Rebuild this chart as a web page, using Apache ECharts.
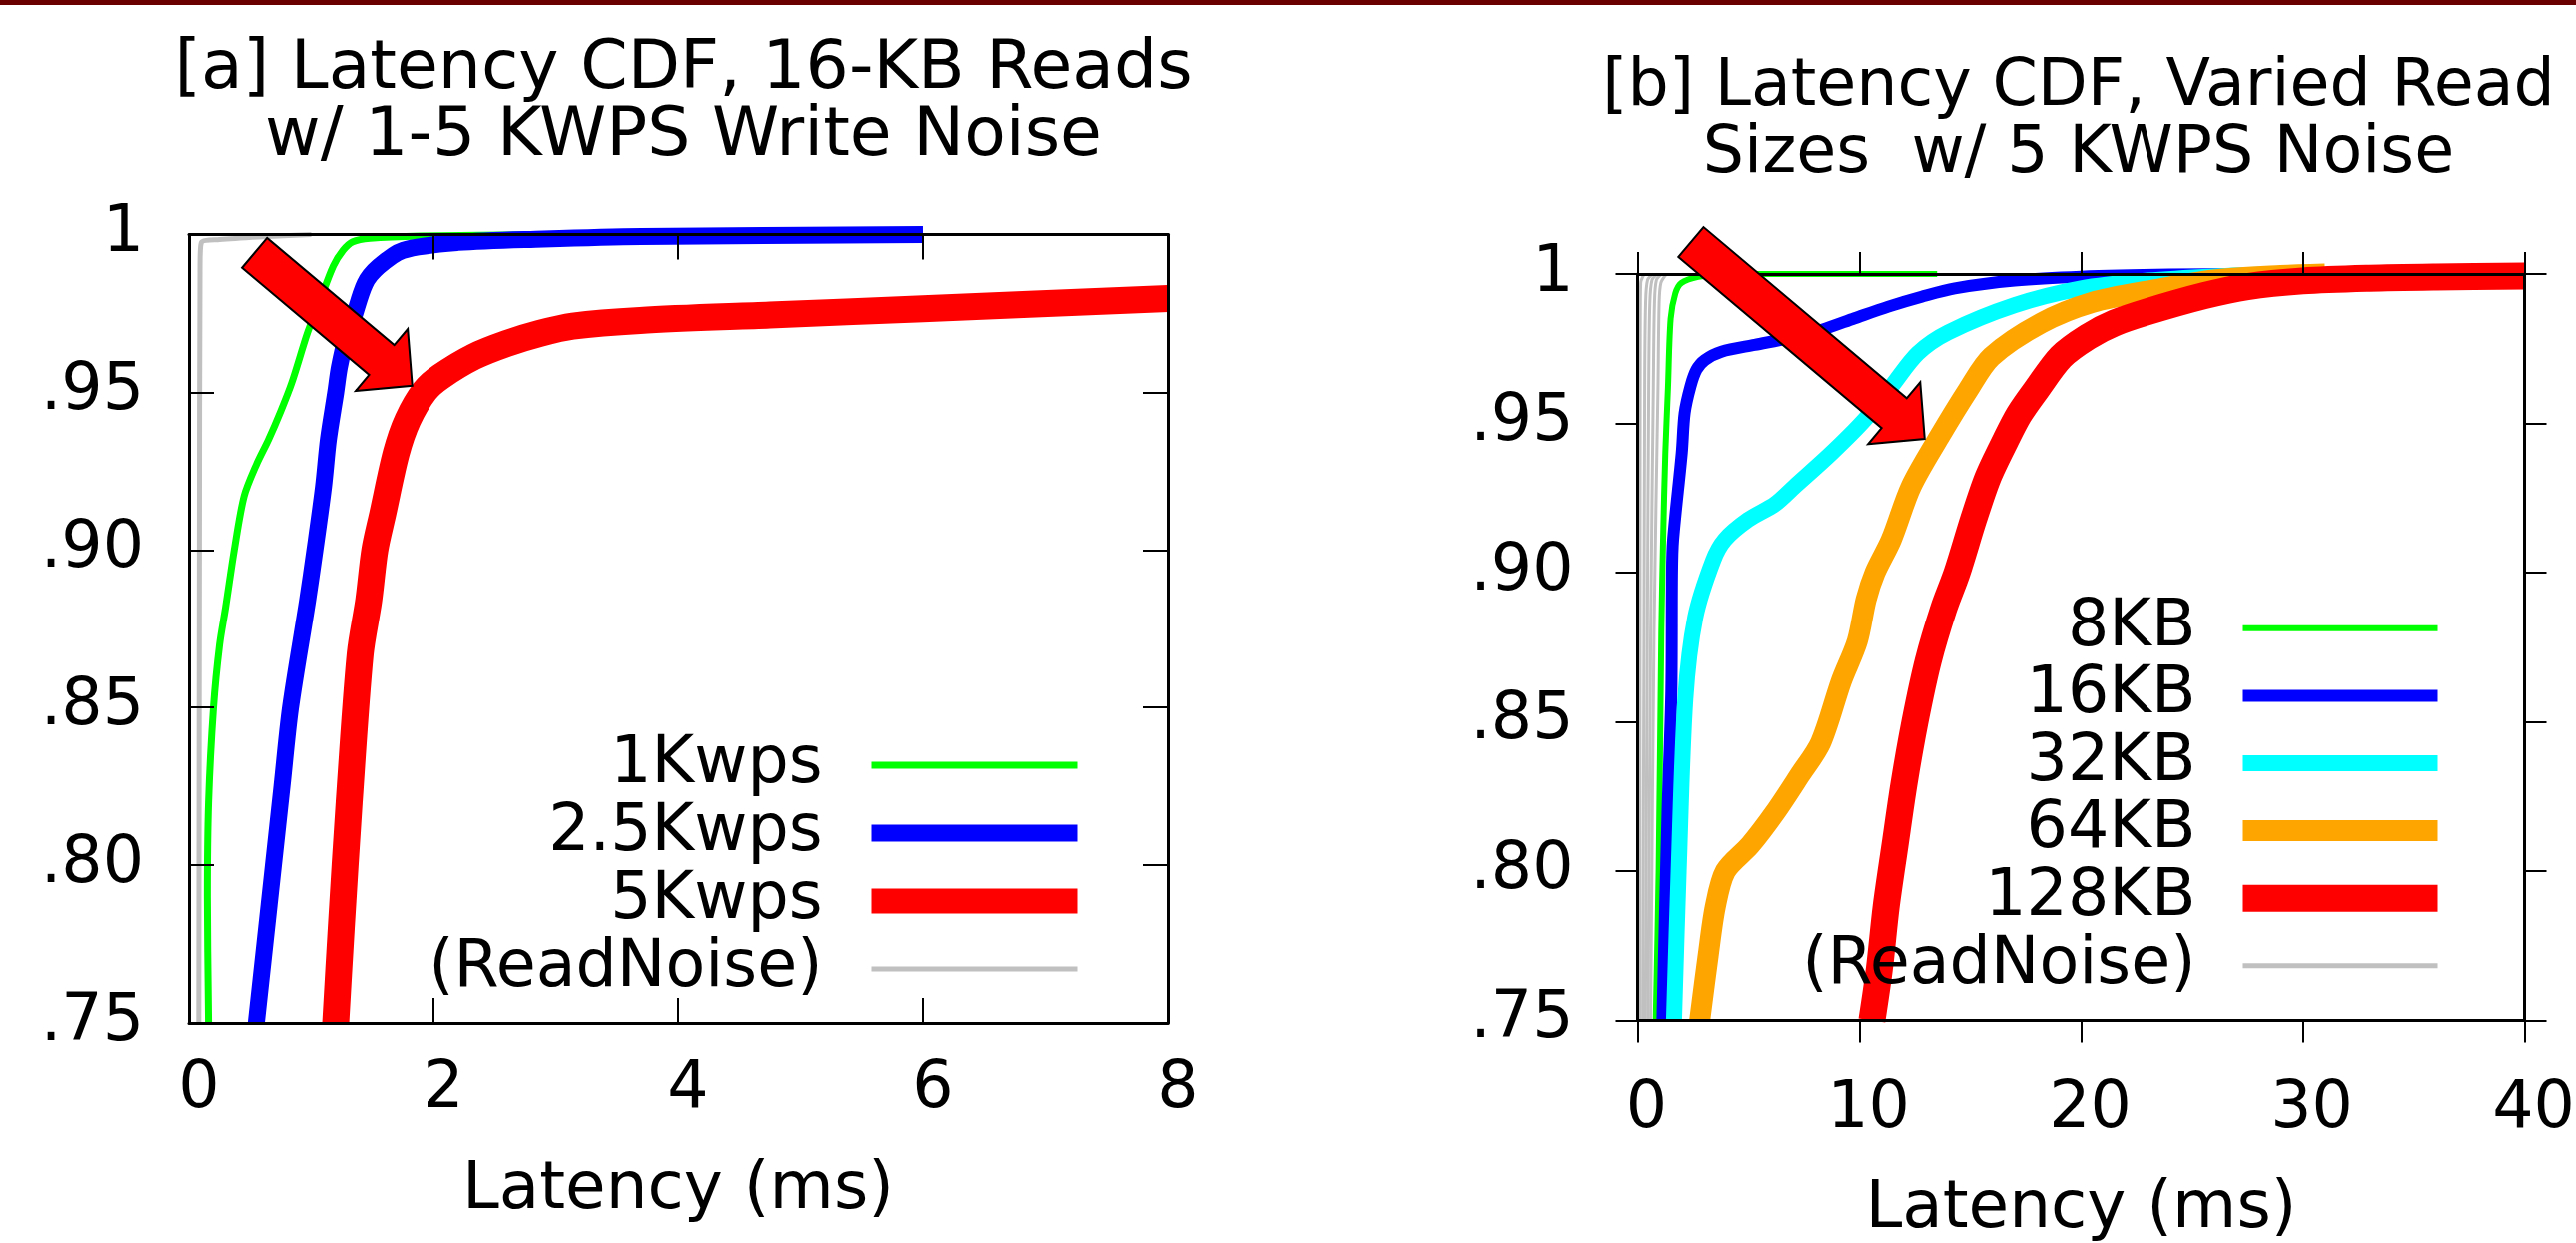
<!DOCTYPE html>
<html>
<head>
<meta charset="UTF-8">
<title>Latency CDF</title>
<script src="https://cdn.jsdelivr.net/npm/echarts@6/dist/echarts.min.js"></script>
</head>
<body style="margin:0; background:#fff">
<div id="main" style="width:2579px; height:1244px"></div>
<script>
// ---- [a] 16-KB reads with 1-5 KWPS write noise  (x = latency ms, y = CDF)
const aReadNoise = [[0.08, 0.75], [0.085, 0.9], [0.09, 0.99], [0.1, 0.9974], [0.25, 0.9984], [0.6, 0.9993], [1.0, 1.0]];
const a1Kwps = [[0.16, 0.75], [0.15, 0.79], [0.16, 0.82], [0.2, 0.85], [0.25, 0.87], [0.3, 0.882], [0.37, 0.9],
  [0.45, 0.917], [0.55, 0.927], [0.65, 0.935], [0.75, 0.944], [0.84, 0.953], [0.97, 0.969], [1.07, 0.979],
  [1.18, 0.99], [1.26, 0.995], [1.34, 0.9977], [1.48, 0.9988], [1.9, 0.9995], [3.0, 1.0]];
const a2_5Kwps = [[0.55, 0.75], [0.62, 0.775], [0.69, 0.8], [0.76, 0.825], [0.83, 0.85], [0.97, 0.884], [1.03, 0.9],
  [1.1, 0.92], [1.14, 0.935], [1.2, 0.95], [1.23, 0.958], [1.29, 0.968], [1.34, 0.973], [1.44, 0.9845],
  [1.55, 0.9898], [1.75, 0.995], [2.2, 0.9975], [2.9, 0.9986], [3.7, 0.9994], [6.0, 1.0]];
const a5Kwps = [[1.2, 0.75], [1.245, 0.78], [1.31, 0.82], [1.4, 0.867], [1.47, 0.884], [1.52, 0.9], [1.586, 0.9117],
  [1.695, 0.9307], [1.79, 0.9413], [1.93, 0.9505], [2.06, 0.955], [2.33, 0.9613], [2.6, 0.9655], [2.87, 0.9687],
  [3.14, 0.971], [3.69, 0.9728], [4.75, 0.9745], [6.0, 0.9765], [8.0, 0.9797]];

// ---- [b] varied read sizes with 5 KWPS noise
const bReadNoise = [
  [[0.1, 0.75], [0.11, 0.9], [0.12, 0.98], [0.14, 0.997], [0.3, 1.0]],
  [[0.23, 0.75], [0.29, 0.88], [0.32, 0.962], [0.36, 0.99], [0.45, 0.998], [0.7, 1.0]],
  [[0.35, 0.75], [0.44, 0.88], [0.5, 0.962], [0.55, 0.99], [0.65, 0.998], [0.9, 1.0]],
  [[0.47, 0.75], [0.59, 0.88], [0.71, 0.962], [0.76, 0.99], [0.85, 0.998], [1.1, 1.0]],
  [[0.59, 0.75], [0.74, 0.88], [0.92, 0.962], [0.97, 0.99], [1.05, 0.997], [1.3, 1.0]]
];
const b8KB = [[0.82, 0.75], [0.95, 0.8], [1.07, 0.88], [1.15, 0.911], [1.25, 0.94], [1.37, 0.962], [1.49, 0.985],
  [1.7, 0.9935], [1.97, 0.997], [2.73, 0.9991], [4.0, 1.0], [13.5, 1.0]];
const b16KB = [[1.12, 0.75], [1.35, 0.82], [1.52, 0.86], [1.55, 0.9], [1.6, 0.911], [1.99, 0.94], [2.12, 0.9534],
  [2.38, 0.9623], [2.65, 0.9679], [3.03, 0.9712], [3.78, 0.974], [5.28, 0.9763], [6.78, 0.9785], [8.28, 0.9813],
  [9.78, 0.9852], [11.3, 0.9891], [12.8, 0.9924], [14.3, 0.9952], [17.0, 0.9978], [20.0, 0.9991], [24.0, 0.9998], [28.0, 1.0]];
const b32KB = [[1.64, 0.75], [1.85, 0.8], [2.15, 0.8575], [2.6, 0.885], [3.4, 0.904], [3.93, 0.911], [4.98, 0.9177],
  [6.2, 0.923], [7.08, 0.9289], [8.73, 0.94], [10.23, 0.9512], [11.43, 0.9623], [12.63, 0.9735], [14.0, 0.9805],
  [17.0, 0.9896], [20.0, 0.9952], [23.0, 0.9978], [26.0, 0.9992], [29.0, 1.0]];
const b64KB = [[2.8, 0.75], [3.18, 0.7717], [3.5, 0.788], [3.96, 0.8], [5.07, 0.8087], [6.2, 0.8197], [7.3, 0.832],
  [8.25, 0.843], [9.18, 0.8636], [9.9, 0.877], [10.3, 0.891], [10.7, 0.9], [11.43, 0.911], [12.33, 0.9289],
  [13.6, 0.9455], [14.9, 0.9612], [15.95, 0.9723], [18.2, 0.9836], [20.5, 0.9905], [23.3, 0.9947], [26.0, 0.998],
  [29.0, 0.9995], [31.0, 1.0]];
const b128KB = [[10.56, 0.75], [10.9, 0.7675], [11.2, 0.788], [11.6, 0.8087], [12.0, 0.829], [12.5, 0.85], [13.1, 0.8705],
  [13.8, 0.888], [14.4, 0.9], [15.15, 0.918], [15.8, 0.932], [16.6, 0.9445], [17.2, 0.953], [17.97, 0.9612],
  [19.09, 0.9723], [20.3, 0.979], [21.5, 0.9836], [23.0, 0.9874], [25.55, 0.99275], [27.5, 0.9958], [30.0, 0.9977],
  [33.0, 0.9986], [36.0, 0.999], [40.0, 0.9993]];

// arrows: [tailX, tailY, tipX, tipY] in data units
const arrowA = [0.536, 0.9942, 1.826, 0.9521];
const arrowB = [2.405, 1.0107, 12.94, 0.9448];

const yTicks = { min: 0.75, max: 1, interval: 0.05 };

const FONT = 'DejaVu Sans';
const chart = echarts.init(document.getElementById('main'));

function yFmt(v) {
  const r = Math.round(v * 100);
  return r === 100 ? '1' : '.' + String(r).padStart(2, '0');
}

function axis(grid, pos, inside, tickLen, extra) {
  return Object.assign({
    type: 'value', gridIndex: grid, position: pos, z: 5,
    axisLine: { show: true, onZero: false, lineStyle: { color: '#000', width: 3 } },
    axisTick: { show: true, inside: inside, length: tickLen, lineStyle: { color: '#000', width: 2 } },
    axisLabel: { show: false },
    splitLine: { show: false }
  }, extra);
}

const labelStyle = { fontSize: 65, fontFamily: FONT, color: '#000', lineHeight: 65 };
const nameStyle = { fontSize: 66, fontFamily: FONT, color: '#000', lineHeight: 66 };

function line(name, data, color, width, xi, yi) {
  return {
    type: 'line', name: name, data: data, xAxisIndex: xi, yAxisIndex: yi,
    symbol: 'none', showSymbol: false, smooth: 0.3, clip: false,
    lineStyle: { color: color, width: width, join: 'round', cap: 'butt' },
    itemStyle: { color: color }, emphasis: { disabled: true }
  };
}

function renderArrow(params, api) {
  const p0 = api.coord([api.value(0), api.value(1)]);
  const p1 = api.coord([api.value(2), api.value(3)]);
  const dx = p1[0] - p0[0], dy = p1[1] - p0[1];
  const len = Math.hypot(dx, dy);
  const ux = dx / len, uy = dy / len, nx = -uy, ny = ux;
  const sw = 19.5, hw = 40.5, hl = 40;
  const bx = p1[0] - ux * hl, by = p1[1] - uy * hl;
  return {
    type: 'polygon',
    shape: { points: [
      [p0[0] + nx * sw, p0[1] + ny * sw],
      [bx + nx * sw, by + ny * sw],
      [bx + nx * hw, by + ny * hw],
      p1,
      [bx - nx * hw, by - ny * hw],
      [bx - nx * sw, by - ny * sw],
      [p0[0] - nx * sw, p0[1] - ny * sw]
    ] },
    style: { fill: '#ff0000', stroke: '#000', lineWidth: 2 }
  };
}

const legendText = (lh, pad) => ({ fontSize: 65, fontFamily: FONT, color: '#000', lineHeight: lh, padding: [0, pad, 0, 0] });
// hide the marker dot that line series put in legend icons
const noDot = { opacity: 0, borderWidth: 0 };

const series = [
  line('(ReadNoise)', aReadNoise, '#c0c0c0', 5, 0, 0),
  line('1Kwps', a1Kwps, '#00ff00', 7, 0, 0),
  line('2.5Kwps', a2_5Kwps, '#0000ff', 17, 0, 0),
  line('5Kwps', a5Kwps, '#ff0000', 27, 0, 0),
  { type: 'custom', xAxisIndex: 0, yAxisIndex: 0, z: 10, data: [arrowA], renderItem: renderArrow, silent: true }
];
bReadNoise.forEach(d => series.push(line('(ReadNoise)', d, '#c0c0c0', 3, 2, 2)));
series.push(
  line('8KB', b8KB, '#00ff00', 6, 2, 2),
  line('16KB', b16KB, '#0000ff', 12, 2, 2),
  line('32KB', b32KB, '#00ffff', 16, 2, 2),
  line('64KB', b64KB, '#ffa500', 21, 2, 2),
  line('128KB', b128KB, '#ff0000', 27, 2, 2),
  { type: 'custom', xAxisIndex: 2, yAxisIndex: 2, z: 10, data: [arrowB], renderItem: renderArrow, silent: true }
);

chart.setOption({
  animation: false,
  backgroundColor: '#fff',
  graphic: [{ type: 'rect', left: 0, top: 0, shape: { width: 2579, height: 5 }, style: { fill: '#6b0000' } }],
  title: [
    { text: '[a] Latency CDF, 16-KB Reads\nw/ 1-5 KWPS Write Noise', left: 679, top: 32, textAlign: 'center',
      textStyle: { fontSize: 68, fontFamily: FONT, fontWeight: 'normal', color: '#000', lineHeight: 67 } },
    { text: '[b] Latency CDF, Varied Read\nSizes  w/ 5 KWPS Noise', left: 2076, top: 50, textAlign: 'center',
      textStyle: { fontSize: 65, fontFamily: FONT, fontWeight: 'normal', color: '#000', lineHeight: 67 } }
  ],
  grid: [
    { left: 189, top: 234.5, width: 980, height: 789.5, containLabel: false, outerBoundsMode: 'none' },
    { left: 1639.5, top: 274, width: 888, height: 747.5, containLabel: false, outerBoundsMode: 'none' }
  ],
  xAxis: [
    axis(0, 'bottom', true, 25, { min: 0, max: 8, interval: 2,
      axisLabel: Object.assign({ show: true, margin: 35, padding: [0, 0, 0, 20] }, labelStyle),
      name: 'Latency (ms)', nameLocation: 'middle', nameGap: 135, nameTextStyle: nameStyle }),
    axis(0, 'top', true, 25, { min: 0, max: 8, interval: 2 }),
    axis(1, 'bottom', false, 22, { min: 0, max: 40, interval: 10,
      axisLabel: Object.assign({ show: true, margin: 57, padding: [0, 0, 0, 18] }, labelStyle),
      name: 'Latency (ms)', nameLocation: 'middle', nameGap: 156, nameTextStyle: nameStyle }),
    axis(1, 'top', false, 22, { min: 0, max: 40, interval: 10 })
  ],
  yAxis: [
    axis(0, 'left', true, 25, Object.assign({
      axisLabel: Object.assign({ show: true, margin: 45, formatter: yFmt }, labelStyle) }, yTicks)),
    axis(0, 'right', true, 25, Object.assign({}, yTicks)),
    axis(1, 'left', false, 22, Object.assign({
      axisLabel: Object.assign({ show: true, margin: 64, formatter: yFmt }, labelStyle) }, yTicks)),
    axis(1, 'right', false, 22, Object.assign({}, yTicks))
  ],
  legend: [
    { orient: 'vertical', align: 'right', right: 1488, top: 732, itemWidth: 206, itemHeight: 28, itemGap: 0,
      padding: 0, selectedMode: false, textStyle: legendText(68, 44), itemStyle: noDot,
      data: [
        { name: '1Kwps', lineStyle: { width: 7 } },
        { name: '2.5Kwps', lineStyle: { width: 17 } },
        { name: '5Kwps', lineStyle: { width: 25 } },
        { name: '(ReadNoise)', lineStyle: { width: 5 } }
      ] },
    { orient: 'vertical', align: 'right', right: 125, top: 595, itemWidth: 195, itemHeight: 28, itemGap: 0,
      padding: 0, selectedMode: false, textStyle: legendText(67.6, 42), itemStyle: noDot,
      data: [
        { name: '8KB', lineStyle: { width: 6 } },
        { name: '16KB', lineStyle: { width: 12 } },
        { name: '32KB', lineStyle: { width: 16 } },
        { name: '64KB', lineStyle: { width: 21 } },
        { name: '128KB', lineStyle: { width: 27 } },
        { name: '(ReadNoise)', lineStyle: { width: 5 } }
      ] }
  ],
  series: series
});
</script>
</body>
</html>
